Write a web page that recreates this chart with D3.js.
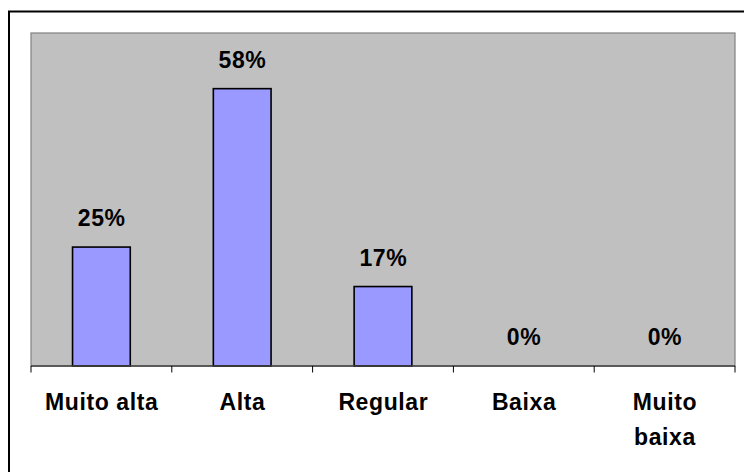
<!DOCTYPE html>
<html>
<head>
<meta charset="utf-8">
<script src="https://cdn.jsdelivr.net/npm/d3@7"></script>
<style>
  html, body { margin: 0; padding: 0; background: #fff; }
  svg { display: block; }
  text { font-family: "Liberation Sans", Arial, sans-serif; font-weight: bold; fill: #000; }
</style>
</head>
<body>
<svg id="chart" width="744" height="472"></svg>
<script>
const categories = ["Muito alta", "Alta", "Regular", "Baixa", "Muito baixa"];
const categoryLines = [["Muito alta"], ["Alta"], ["Regular"], ["Baixa"], ["Muito", "baixa"]];
const values = [0.25, 0.583, 0.167, 0, 0];
const valueLabels = ["25%", "58%", "17%", "0%", "0%"];
const yDomain = [0, 0.7];

const svg = d3.select("#chart");
const W = 744, H = 472;
const plot = { left: 31, top: 33, right: 735, bottom: 366 };
const FS = 23, LS = 0.6;

svg.append("rect").attr("x", 0).attr("y", 0).attr("width", W).attr("height", H).attr("fill", "#fff");
// outer chart border (extends past the image right/bottom)
svg.append("rect").attr("x", 9).attr("y", 11.5).attr("width", 760).attr("height", 480)
  .attr("fill", "none").attr("stroke", "#000").attr("stroke-width", 2);

const x = d3.scaleBand().domain(categories).range([plot.left, plot.right]).padding(0);
const y = d3.scaleLinear().domain(yDomain).range([plot.bottom, plot.top]);

// plot area
svg.append("rect").attr("x", plot.left).attr("y", plot.top)
  .attr("width", plot.right - plot.left).attr("height", plot.bottom - plot.top)
  .attr("fill", "#c0c0c0").attr("stroke", "#808080").attr("stroke-width", 1.2);

const barW = x.bandwidth() * 0.41;

svg.append("g").selectAll("rect").data(values).join("rect")
  .attr("x", (d, i) => x(categories[i]) + (x.bandwidth() - barW) / 2)
  .attr("y", d => y(d))
  .attr("width", barW)
  .attr("height", d => y(0) - y(d))
  .attr("fill", "#9999ff")
  .attr("stroke", "#000")
  .attr("stroke-width", 1.6)
  .style("display", d => d > 0 ? null : "none");

// axis line
svg.append("line").attr("x1", plot.left).attr("x2", plot.right)
  .attr("y1", y(0)).attr("y2", y(0)).attr("stroke", "#404040").attr("stroke-width", 1.6);

// ticks at category boundaries
const bounds = categories.map(c => x(c)).concat([x(categories[categories.length - 1]) + x.bandwidth()]);
svg.append("g").selectAll("line").data(bounds).join("line")
  .attr("x1", d => d).attr("x2", d => d)
  .attr("y1", y(0)).attr("y2", y(0) + 6.5)
  .attr("stroke", "#000").attr("stroke-width", 1);

// value labels
svg.append("g").selectAll("text").data(values).join("text")
  .attr("x", (d, i) => x(categories[i]) + x.bandwidth() / 2 + LS / 2)
  .attr("y", d => y(d) - 21)
  .attr("text-anchor", "middle")
  .attr("font-size", FS)
  .attr("letter-spacing", LS)
  .text((d, i) => valueLabels[i]);

// category labels
const cl = svg.append("g").selectAll("text").data(categoryLines).join("text")
  .attr("x", (d, i) => x(categories[i]) + x.bandwidth() / 2 + LS / 2)
  .attr("y", 410)
  .attr("text-anchor", "middle")
  .attr("font-size", FS)
  .attr("letter-spacing", LS);
cl.each(function(lines, i) {
  const t = d3.select(this);
  lines.forEach((ln, j) => {
    t.append("tspan")
      .attr("x", x(categories[i]) + x.bandwidth() / 2 + LS / 2)
      .attr("dy", j === 0 ? 0 : 35)
      .text(ln);
  });
});
</script>
</body>
</html>
